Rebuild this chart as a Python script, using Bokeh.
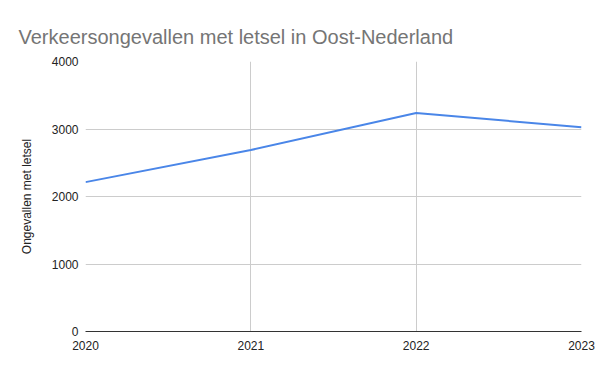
from bokeh.plotting import figure
from bokeh.models import FixedTicker, Range1d
from bokeh.embed import file_html
from bokeh.resources import INLINE

years = [2020, 2021, 2022, 2023]
ongevallen = [2213, 2688, 3238, 3025]
y_ticks = [0, 1000, 2000, 3000, 4000]

FONT = "Liberation Sans"

p = figure(width=600, height=371, output_backend="svg", toolbar_location=None,
           x_range=Range1d(2020, 2023), y_range=Range1d(0, 4000),
           min_border_left=85, min_border_right=19, min_border_top=61, min_border_bottom=40)

p.title.text = "Verkeersongevallen met letsel in Oost-Nederland"
p.title.text_font = FONT
p.title.text_font_size = "20px"
p.title.text_font_style = "normal"
p.title.text_color = "#757575"
p.title.align = "left"
p.title.offset = -67
p.title.standoff = 27

p.line(years, ongevallen, line_color="#4a86e8", line_width=2)

p.outline_line_color = None
p.background_fill_color = "white"
p.border_fill_color = "white"

p.xaxis.ticker = FixedTicker(ticks=years)
p.yaxis.ticker = FixedTicker(ticks=y_ticks)
p.xgrid.ticker = FixedTicker(ticks=years)
p.ygrid.ticker = FixedTicker(ticks=y_ticks)
p.xgrid.grid_line_color = "#cccccc"
p.ygrid.grid_line_color = "#cccccc"

for ax in (p.xaxis[0], p.yaxis[0]):
    ax.major_tick_line_color = None
    ax.minor_tick_line_color = None
    ax.major_tick_out = 0
    ax.major_tick_in = 0
    ax.major_label_text_font = FONT
    ax.major_label_text_font_size = "12px"
    ax.major_label_text_color = "#222222"

p.xaxis.axis_line_color = "#333333"
p.xaxis.major_label_standoff = 9
p.yaxis.axis_line_color = None
p.yaxis.major_label_standoff = 7
p.yaxis.axis_label = "Ongevallen met letsel"
p.yaxis.axis_label_text_font = FONT
p.yaxis.axis_label_text_font_size = "12px"
p.yaxis.axis_label_text_font_style = "normal"
p.yaxis.axis_label_text_color = "#222222"
p.yaxis.axis_label_standoff = 15

open("out.html", "w").write(file_html(p, INLINE))
